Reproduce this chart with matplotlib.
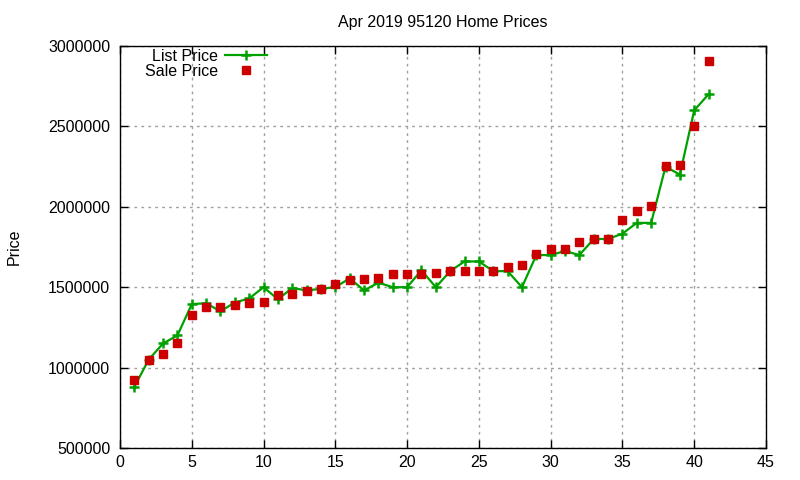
import matplotlib
matplotlib.use("Agg")
import matplotlib.pyplot as plt

plt.rcParams['font.family'] = ['Liberation Sans', 'DejaVu Sans']

# home number (sorted by price)
home_idx = list(range(1, 42))

list_price = [880000, 1050000, 1150000, 1200000, 1395000, 1400000, 1350000, 1405000, 1430000, 1500000,
              1425000, 1495000, 1480000, 1490000, 1500000, 1555000, 1480000, 1528000, 1500000, 1500000,
              1605000, 1500000, 1600000, 1660000, 1660000, 1600000, 1600000, 1500000, 1700000, 1700000,
              1725000, 1700000, 1800000, 1800000, 1833000, 1900000, 1900000, 2250000, 2200000, 2600000,
              2700000]

sale_price = [925000, 1050000, 1082000, 1150000, 1325000, 1375000, 1375000, 1388000, 1400000, 1410000,
              1453000, 1455000, 1477000, 1490000, 1520000, 1545000, 1552000, 1558000, 1579000, 1579000,
              1580000, 1591000, 1602000, 1600000, 1600000, 1600000, 1628000, 1635000, 1705000, 1740000,
              1740000, 1778000, 1800000, 1800000, 1915000, 1972000, 2003000, 2255000, 2262000, 2500000,
              2908000]

x_ticks = [0, 5, 10, 15, 20, 25, 30, 35, 40, 45]
y_ticks = [500000, 1000000, 1500000, 2000000, 2500000, 3000000]

fig = plt.figure(figsize=(8, 4.8), dpi=100)
ax = fig.add_axes([120/800, 1 - 448/480, (766-120)/800, (448-46)/480])

ax.plot(home_idx, list_price, color='#00a000', linewidth=1.6, marker='+', markersize=7,
        markeredgewidth=1.8, label='List Price')
ax.plot(home_idx, sale_price, linestyle='none', color='#cc0000', marker='s', markersize=6.2,
        label='Sale Price')

ax.set_xlim(0, 45)
ax.set_ylim(500000, 3000000)
ax.set_xticks(x_ticks)
ax.set_yticks(y_ticks)
ax.set_yticklabels([str(v) for v in y_ticks])
ax.tick_params(direction='in', top=True, right=True, length=6, labelsize=11.5, width=1)
ax.tick_params(axis='y', pad=7)
ax.tick_params(axis='x', pad=5)
ax.grid(True, color='#a0a0a0', linestyle=(0, (2, 3)), linewidth=1)
for s in ax.spines.values():
    s.set_linewidth(1)

ax.set_title('Apr 2019 95120 Home Prices', fontsize=11.5, pad=14)
ax.set_ylabel('Price', fontsize=11.5, labelpad=19)

# legend text on the left, sample on the right (gnuplot style)
ax.legend(loc='upper right', markerfirst=False, frameon=False, fontsize=11.5, handlelength=2.6,
          borderaxespad=0, borderpad=0, handletextpad=0.45, labelspacing=0.0,
          bbox_to_anchor=(147/646, 1 - 3/402))

fig.savefig('out.png', dpi=100)
